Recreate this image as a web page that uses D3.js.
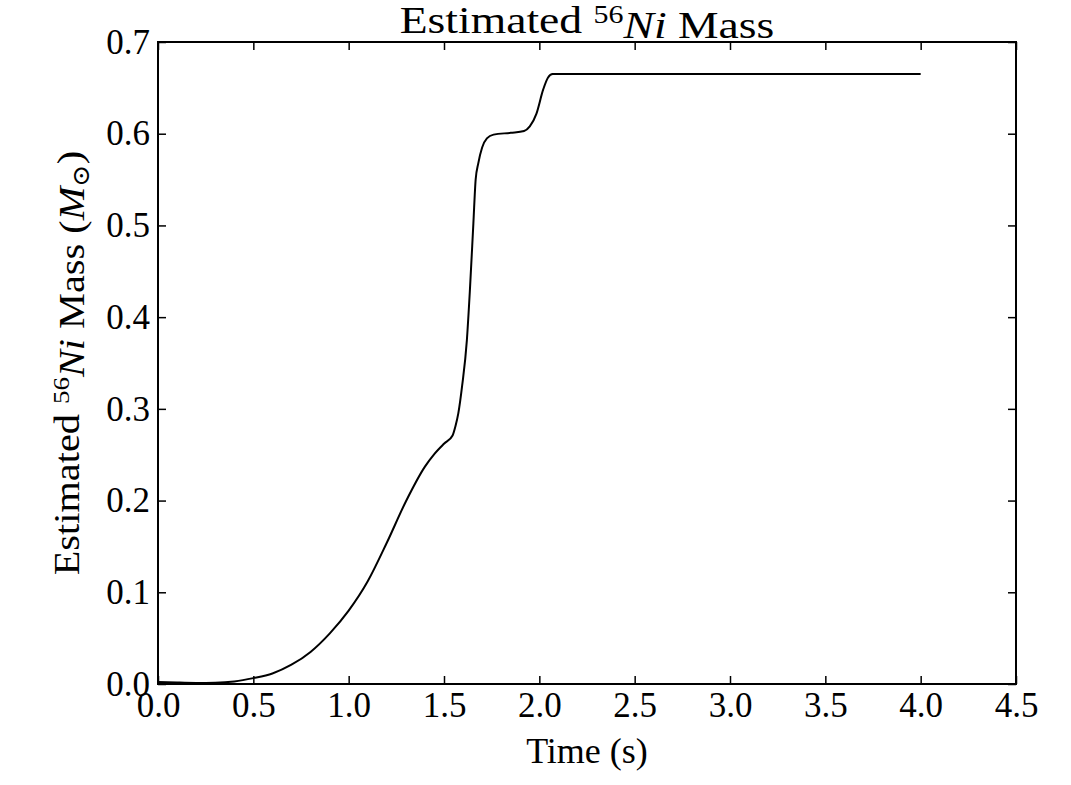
<!DOCTYPE html>
<html>
<head>
<meta charset="utf-8">
<script src="https://cdn.jsdelivr.net/npm/d3@7"></script>
<style>
  body { margin: 0; background: #fff; }
  svg { display: block; }
  text { font-family: "Liberation Serif", "DejaVu Serif", serif; fill: #000; }
</style>
</head>
<body>
<svg id="chart" width="1071" height="785"></svg>
<script>
// values
const timeS = [0, 0.1, 0.2, 0.3, 0.4, 0.5, 0.6, 0.7, 0.8, 0.9, 1.0, 1.1, 1.2, 1.3, 1.4, 1.45, 1.5,
  1.545, 1.56, 1.575, 1.595, 1.62, 1.636, 1.654, 1.666, 1.68, 1.7, 1.725, 1.76, 1.85, 1.92,
  1.95, 1.985, 2.02, 2.045, 2.07, 2.1, 2.5, 3.0, 3.5, 4.0];
const massNi = [0.0023, 0.0016, 0.0012, 0.0014, 0.0028, 0.0064, 0.0115, 0.021, 0.035, 0.055, 0.080,
  0.112, 0.154, 0.199, 0.237, 0.251, 0.262, 0.271, 0.281, 0.295, 0.325, 0.375, 0.43, 0.502,
  0.55, 0.568, 0.585, 0.595, 0.599, 0.601, 0.603, 0.608, 0.622, 0.648, 0.661, 0.665, 0.665,
  0.665, 0.665, 0.665, 0.665];
const xTicks = [0, 0.5, 1.0, 1.5, 2.0, 2.5, 3.0, 3.5, 4.0, 4.5];
const yTicks = [0, 0.1, 0.2, 0.3, 0.4, 0.5, 0.6, 0.7];

const margin = { top: 42, right: 55, bottom: 101, left: 158 };
const width = 1071 - margin.left - margin.right;
const height = 785 - margin.top - margin.bottom;
const tickFont = 35;
const tickLen = 8;

const svg = d3.select("#chart");
const g = svg.append("g").attr("transform", `translate(${margin.left},${margin.top})`);

const xScale = d3.scaleLinear().domain([0, 4.5]).range([0, width]);
const yScale = d3.scaleLinear().domain([0, 0.7]).range([height, 0]);

function styleAxis(sel) {
  sel.select(".domain").remove();
  sel.selectAll(".tick line").attr("stroke", "#000").attr("stroke-width", 1.5);
  sel.selectAll(".tick text").style("font-size", tickFont + "px").attr("fill", "#000");
}

// bottom axis with labels, ticks pointing inward
g.append("g")
  .attr("transform", `translate(0,${height})`)
  .call(d3.axisBottom(xScale).tickValues(xTicks).tickSize(-tickLen).tickPadding(8)
    .tickFormat(d3.format(".1f")))
  .call(styleAxis);

// top axis, ticks only
g.append("g")
  .call(d3.axisTop(xScale).tickValues(xTicks).tickSize(-tickLen).tickFormat(""))
  .call(styleAxis);

// left axis with labels
g.append("g")
  .call(d3.axisLeft(yScale).tickValues(yTicks).tickSize(-tickLen).tickPadding(8)
    .tickFormat(d3.format(".1f")))
  .call(styleAxis);

// right axis, ticks only
g.append("g")
  .attr("transform", `translate(${width},0)`)
  .call(d3.axisRight(yScale).tickValues(yTicks).tickSize(-tickLen).tickFormat(""))
  .call(styleAxis);

// frame
g.append("rect")
  .attr("width", width)
  .attr("height", height)
  .attr("fill", "none")
  .attr("stroke", "#000")
  .attr("stroke-width", 2);

// curve
const line = d3.line()
  .x((d, i) => xScale(timeS[i]))
  .y(d => yScale(d))
  .curve(d3.curveMonotoneX);

g.append("path")
  .datum(massNi)
  .attr("d", line)
  .attr("fill", "none")
  .attr("stroke", "#000")
  .attr("stroke-width", 2);

// title (stretched a little to match the wider TeX font)
const title = svg.append("text")
  .attr("transform", `translate(${margin.left + width / 2},33) scale(1.2,1)`)
  .attr("text-anchor", "middle")
  .style("font-size", "38px");
title.append("tspan").text("Estimated ");
title.append("tspan").attr("dy", "-0.4em").style("font-size", "25px").text("56");
title.append("tspan").attr("dy", "0.4em").style("font-style", "italic").text("Ni");
title.append("tspan").text(" Mass");

// x label
svg.append("text")
  .attr("x", margin.left + width / 2)
  .attr("y", 763)
  .attr("text-anchor", "middle")
  .style("font-size", "36px")
  .text("Time (s)");

// y label
const yLab = svg.append("text")
  .attr("transform", `translate(79,${margin.top + height / 2}) rotate(-90) scale(1.12,1)`)
  .attr("text-anchor", "middle")
  .style("font-size", "36px");
yLab.append("tspan").text("Estimated ");
yLab.append("tspan").attr("dy", "-0.42em").style("font-size", "24px").text("56");
yLab.append("tspan").attr("dy", "0.42em").style("font-style", "italic").text("Ni");
yLab.append("tspan").text(" Mass (");
yLab.append("tspan").style("font-style", "italic").text("M");
yLab.append("tspan").attr("dy", "0.2em").style("font-size", "24px").text("\u2299");
yLab.append("tspan").attr("dy", "-0.2em").text(")");
</script>
</body>
</html>
